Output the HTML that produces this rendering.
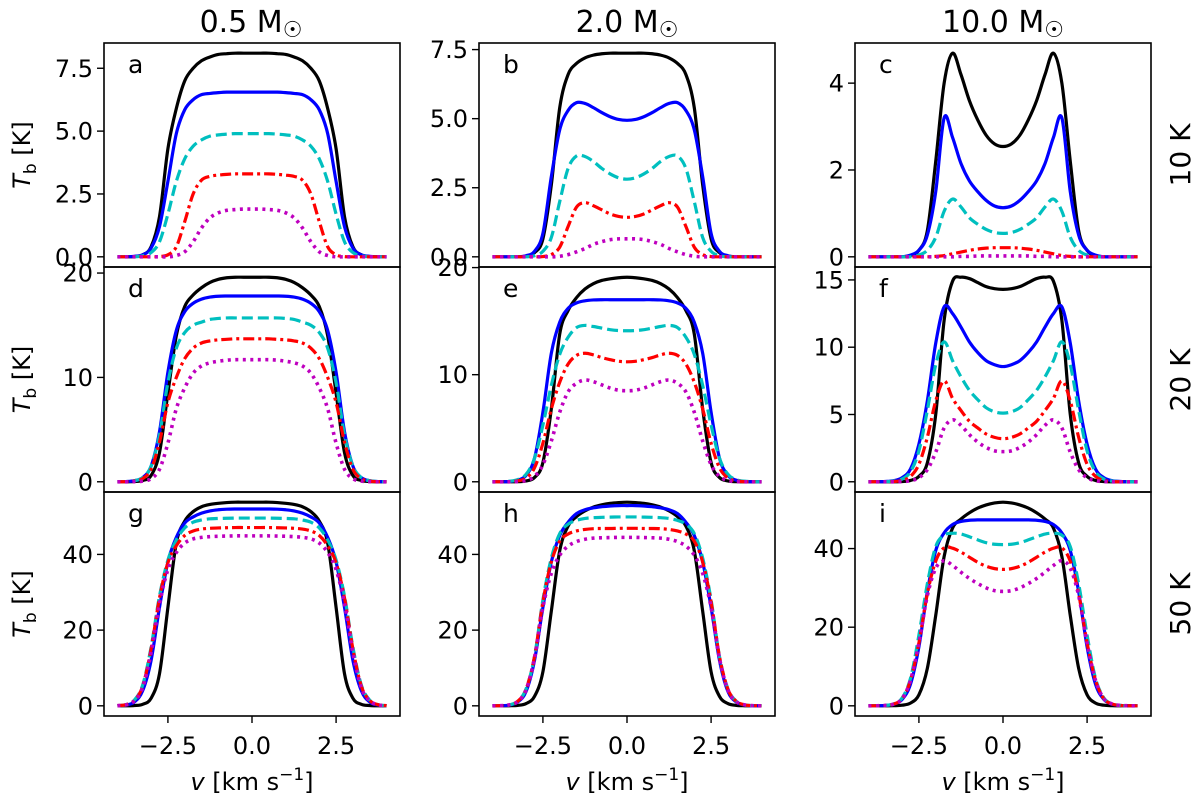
<!DOCTYPE html>
<html><head><meta charset="utf-8"><style>
html,body{margin:0;padding:0;background:#fff;}
svg{display:block;font-family:"DejaVu Sans","Liberation Sans",sans-serif;}
</style></head><body>
<svg id="fig" width="1200" height="803" viewBox="0 0 1200 803" xmlns="http://www.w3.org/2000/svg">
<g id="titles">
<text x="251" y="32" font-size="30" text-anchor="middle">0.5 M<tspan font-size="22" dy="5">☉</tspan></text>
<text x="627" y="32" font-size="30" text-anchor="middle">2.0 M<tspan font-size="22" dy="5">☉</tspan></text>
<text x="1003" y="32" font-size="30" text-anchor="middle">10.0 M<tspan font-size="22" dy="5">☉</tspan></text>
</g>
<g>
<text transform="translate(1190,155) rotate(-90)" font-size="28" text-anchor="middle">10 K</text>
<text transform="translate(1190,380) rotate(-90)" font-size="28" text-anchor="middle">20 K</text>
<text transform="translate(1190,604) rotate(-90)" font-size="28" text-anchor="middle">50 K</text>
</g>
<g id="panels"></g>
</svg>
<script>
const vHalf = [0,0.25,0.5,0.75,1,1.25,1.5,1.75,2,2.25,2.5,2.75,3,3.25,3.5,3.75,4];
const xTicks = [-2.5,0,2.5];
const xTickLabels = ["\u22122.5","0.0","2.5"];
const seriesNames = ["black","blue","cyan","red","magenta"];
const tbA = [
 [8.1,8.1,8.1,8.08,8.05,7.95,7.8,7.5,7.0,5.9,4.3,1.6,0.4,0.08,0.01,0,0],
 [6.55,6.55,6.55,6.55,6.53,6.5,6.45,6.25,5.85,4.9,3.0,1.2,0.35,0.08,0.02,0,0],
 [4.9,4.9,4.9,4.88,4.85,4.8,4.65,4.4,3.9,3.0,1.7,0.6,0.17,0.04,0,0,0],
 [3.3,3.3,3.3,3.28,3.25,3.2,3.05,2.5,1.4,0.4,0.08,0.01,0,0,0,0,0],
 [1.9,1.9,1.88,1.85,1.75,1.55,1.15,0.6,0.2,0.05,0,0,0,0,0,0,0]];
const tbB = [
 [7.37,7.37,7.37,7.35,7.3,7.2,7.0,6.6,5.4,2.6,0.65,0.15,0.03,0,0,0,0],
 [4.94,4.97,5.07,5.22,5.4,5.55,5.58,5.3,4.6,2.9,0.85,0.2,0.04,0,0,0,0],
 [2.81,2.86,3.0,3.2,3.45,3.63,3.65,3.2,2.0,0.7,0.2,0.04,0,0,0,0,0],
 [1.43,1.46,1.55,1.7,1.85,1.96,1.8,1.1,0.35,0.08,0.01,0,0,0,0,0,0],
 [0.65,0.65,0.62,0.55,0.45,0.3,0.18,0.08,0.02,0,0,0,0,0,0,0,0]];
const tbC = [
 [2.54,2.6,2.8,3.15,3.6,4.2,4.69,4.0,2.2,0.6,0.15,0.03,0,0,0,0,0],
 [1.13,1.17,1.3,1.5,1.75,2.15,2.75,3.2,1.5,0.5,0.15,0.04,0,0,0,0,0],
 [0.54,0.56,0.63,0.75,0.9,1.15,1.33,1.05,0.45,0.15,0.04,0,0,0,0,0,0],
 [0.21,0.21,0.2,0.18,0.15,0.11,0.07,0.03,0.01,0,0,0,0,0,0,0,0],
 [0.02,0.02,0.02,0.02,0.01,0.01,0,0,0,0,0,0,0,0,0,0,0]];
const tbD = [
 [19.6,19.6,19.6,19.55,19.4,19.1,18.6,17.9,16.8,14.0,8.5,2.8,0.6,0.12,0.02,0,0],
 [17.8,17.8,17.8,17.8,17.78,17.7,17.5,17.1,16.3,14.5,10.5,4.8,1.5,0.4,0.1,0.02,0],
 [15.7,15.7,15.7,15.7,15.65,15.55,15.3,15.0,14.3,12.8,9.5,4.5,1.5,0.4,0.1,0.02,0],
 [13.7,13.7,13.7,13.65,13.6,13.5,13.3,12.8,11.8,10.0,7.6,3.8,1.2,0.3,0.07,0.01,0],
 [11.7,11.7,11.7,11.65,11.55,11.4,11.1,10.4,9.0,7.0,3.7,1.2,0.3,0.06,0.01,0,0]];
const tbE = [
 [19.1,19.05,18.95,18.8,18.5,18.0,17.2,16.0,13.8,6.8,1.8,0.4,0.08,0.01,0,0,0],
 [17.0,17.0,17.0,17.0,16.98,16.9,16.7,16.2,14.9,12.0,6.5,2.2,0.6,0.15,0.03,0,0],
 [14.1,14.12,14.2,14.35,14.5,14.6,14.4,13.5,11.9,9.0,5.3,2.2,0.7,0.2,0.05,0.01,0],
 [11.2,11.25,11.4,11.6,11.85,12.0,11.8,11.0,9.3,6.8,3.6,1.3,0.35,0.08,0.01,0,0],
 [8.5,8.55,8.75,9.05,9.35,9.5,9.2,8.4,6.5,3.8,1.6,0.5,0.12,0.02,0,0,0]];
const tbF = [
 [14.3,14.35,14.5,14.8,15.1,15.2,14.9,12.0,5.0,1.4,0.4,0.1,0.02,0,0,0,0],
 [8.56,8.7,9.0,9.6,10.4,11.5,12.5,13.0,10.3,6.0,2.8,0.95,0.3,0.08,0.02,0,0],
 [5.1,5.2,5.5,6.1,6.8,7.8,9.0,10.4,8.7,5.3,2.3,0.75,0.2,0.05,0.01,0,0],
 [3.2,3.3,3.55,4.0,4.5,5.3,6.2,7.5,6.0,3.3,1.3,0.4,0.1,0.02,0,0,0],
 [2.24,2.3,2.55,2.95,3.5,4.2,4.6,4.0,2.2,0.9,0.3,0.08,0.02,0,0,0,0]];
const tbG = [
 [53.8,53.8,53.8,53.7,53.5,53.2,52.6,51.3,48.8,43,26,8.5,2.0,0.4,0.08,0.01,0],
 [52,52,52,51.95,51.8,51.5,50.9,49.9,48.3,44.5,38,26,12,4.0,1.0,0.2,0.03],
 [49.6,49.6,49.6,49.55,49.5,49.4,49.1,48.5,47,43.8,38.5,29,15.5,5.5,1.5,0.3,0.05],
 [47.1,47.1,47.1,47.05,47.0,46.9,46.7,46.2,45.0,42.3,37.8,28.5,15,5.2,1.4,0.3,0.05],
 [44.9,44.9,44.9,44.85,44.8,44.7,44.5,44.1,43,40.5,36,27,14,4.8,1.3,0.25,0.04]];
const tbH = [
 [53.8,53.7,53.5,53.1,52.5,51.5,50,47.5,41,25,9,2.5,0.6,0.12,0.02,0,0],
 [52.9,52.9,52.8,52.6,52.3,51.8,50.8,48.5,45,38,26,12,3.8,1.0,0.2,0.04,0],
 [49.9,49.9,49.85,49.8,49.7,49.5,49,48,45.5,39,28,13,4.5,1.2,0.25,0.05,0],
 [46.9,46.9,46.85,46.85,46.8,46.6,46.2,45.4,43.5,38,27.5,13,4.4,1.2,0.25,0.05,0],
 [44.5,44.5,44.45,44.4,44.3,44.0,43.4,42.2,39.8,35,26,12.5,4.2,1.1,0.25,0.05,0]];
const tbI = [
 [51.8,51.6,51.1,50.3,49.1,47.5,45.2,38,23,9.5,2.8,0.7,0.15,0.03,0,0,0],
 [47.3,47.3,47.3,47.3,47.2,46.9,46.1,44,39.5,29,15,5.5,1.6,0.4,0.1,0.02,0],
 [41,41.1,41.5,42.2,43,43.7,43.9,43.4,40.5,31,18,7,2.0,0.5,0.1,0.02,0],
 [34.7,34.9,35.5,36.5,37.8,39.1,40.1,40.2,36.8,28.5,16,6.5,1.8,0.45,0.1,0.02,0],
 [29.1,29.3,30,31.1,32.4,34,35.7,36.9,35,28,16,6.5,1.8,0.45,0.1,0.02,0]];
const yTicksAB = [0,2.5,5,7.5];
const yTickLabelsAB = ["0.0","2.5","5.0","7.5"];
const yTicksC = [0,2,4];
const yTicksDE = [0,10,20];
const yTicksF = [0,5,10,15];
const yTicksGHI = [0,20,40];
const panelLetters = ["a","b","c","d","e","f","g","h","i"];

const NS = "http://www.w3.org/2000/svg";
const colLeft = [104,479,855], colW = 296;
const rowTop = [43,267,492], rowBot = [267,492,716];
const XMIN = -4.4, XMAX = 4.4;
const colors = ["#000000","#0000ff","#00bfbf","#ff0000","#bf00bf"];
const dashes = ["", "", "11,5", "11,4,3,4", "3,4.5"];
const widths = [3.2,3.2,3.2,3.2,3.6];
const panelData = [tbA,tbB,tbC,tbD,tbE,tbF,tbG,tbH,tbI];
const panelTicks = [yTicksAB,yTicksAB,yTicksC,yTicksDE,yTicksDE,yTicksF,yTicksGHI,yTicksGHI,yTicksGHI];
const root = document.getElementById("panels");

function mk(tag, attrs, parent){
  const e = document.createElementNS(NS, tag);
  for (const k in attrs) e.setAttribute(k, attrs[k]);
  parent.appendChild(e);
  return e;
}
function fmtTick(p, t){
  if (p < 2) return yTickLabelsAB[yTicksAB.indexOf(t)];
  return String(t);
}
for (let p = 0; p < 9; p++){
  const r = Math.floor(p/3), c = p % 3;
  const L = colLeft[c], R = L + colW, T = rowTop[r], B = rowBot[r];
  const data = panelData[p];
  let M = 0; data.forEach(s => s.forEach(v => { if (v > M) M = v; }));
  const ymin = -0.05*M, ymax = 1.05*M;
  const xs = v => L + (v - XMIN)/(XMAX - XMIN)*(R - L);
  const ys = v => B - (v - ymin)/(ymax - ymin)*(B - T);
  const g = mk("g", {}, root);
  
  
  const clipId = "clip" + p;
  const cp = mk("clipPath", {id: clipId}, g);
  mk("rect", {x: L, y: T, width: colW, height: B - T}, cp);
  const lines = mk("g", {"clip-path": "url(#" + clipId + ")"}, g);
  data.forEach((half, si) => {
    const vs = [], ts = [];
    for (let i = half.length - 1; i > 0; i--){ vs.push(-vHalf[i]); ts.push(half[i]); }
    for (let i = 0; i < half.length; i++){ vs.push(vHalf[i]); ts.push(half[i]); }
    const pts = vs.map((v, i) => [xs(v), ys(ts[i])]);
    let d = "M" + pts[0][0].toFixed(2) + "," + pts[0][1].toFixed(2);
    for (let i = 0; i < pts.length - 1; i++){
      const p0 = pts[Math.max(i-1,0)], p1 = pts[i], p2 = pts[i+1], p3 = pts[Math.min(i+2, pts.length-1)];
      const c1 = [p1[0] + (p2[0]-p0[0])/6, p1[1] + (p2[1]-p0[1])/6];
      const c2 = [p2[0] - (p3[0]-p1[0])/6, p2[1] - (p3[1]-p1[1])/6];
      d += "C" + c1[0].toFixed(2) + "," + c1[1].toFixed(2) + " " + c2[0].toFixed(2) + "," + c2[1].toFixed(2) + " " + p2[0].toFixed(2) + "," + p2[1].toFixed(2);
    }
    const path = mk("path", {d: d, fill: "none", stroke: colors[si], "stroke-width": widths[si], "stroke-linejoin": "round"}, lines);
    if (dashes[si]) path.setAttribute("stroke-dasharray", dashes[si]);
    
    
  });
  const frame = mk("rect", {x: L, y: T, width: colW, height: B - T, fill: "none", stroke: "#000", "stroke-width": 1.6}, g);
  
  
  const letter = mk("text", {x: L + 24, y: T + 30, "font-size": 25}, g);
  letter.textContent = panelLetters[p];
  
  
  panelTicks[p].forEach(t => {
    const y = ys(t);
    mk("line", {x1: L - 7, x2: L, y1: y, y2: y, stroke: "#000", "stroke-width": 1.4}, g);
    const tl = mk("text", {x: L - 11, y: y + 8.5, "font-size": 24, "text-anchor": "end"}, g);
    tl.textContent = fmtTick(p, t);
    
    
  });
  if (r === 2){
    xTicks.forEach((t, i) => {
      const x = xs(t);
      mk("line", {x1: x, x2: x, y1: B, y2: B + 7, stroke: "#000", "stroke-width": 1.4}, g);
      const tl = mk("text", {x: x, y: 754, "font-size": 24, "text-anchor": "middle"}, g);
      tl.textContent = xTickLabels[i];
      
      
    });
    const xt = mk("text", {x: (L + R)/2, y: 790, "font-size": 24, "text-anchor": "middle"}, g);
    xt.innerHTML = '<tspan font-style="italic">v</tspan> [km s<tspan font-size="17" dy="-10">\u22121</tspan><tspan dy="10">]</tspan>';
    
    
  }
  if (c === 0){
    const yt = mk("text", {transform: "translate(30," + ((T + B)/2) + ") rotate(-90)", "font-size": 24, "text-anchor": "middle"}, g);
    yt.innerHTML = '<tspan font-style="italic">T</tspan><tspan font-size="17" dy="6">b</tspan><tspan dy="-6"> [K]</tspan>';
    
    
  }
}
</script>
</body></html>
